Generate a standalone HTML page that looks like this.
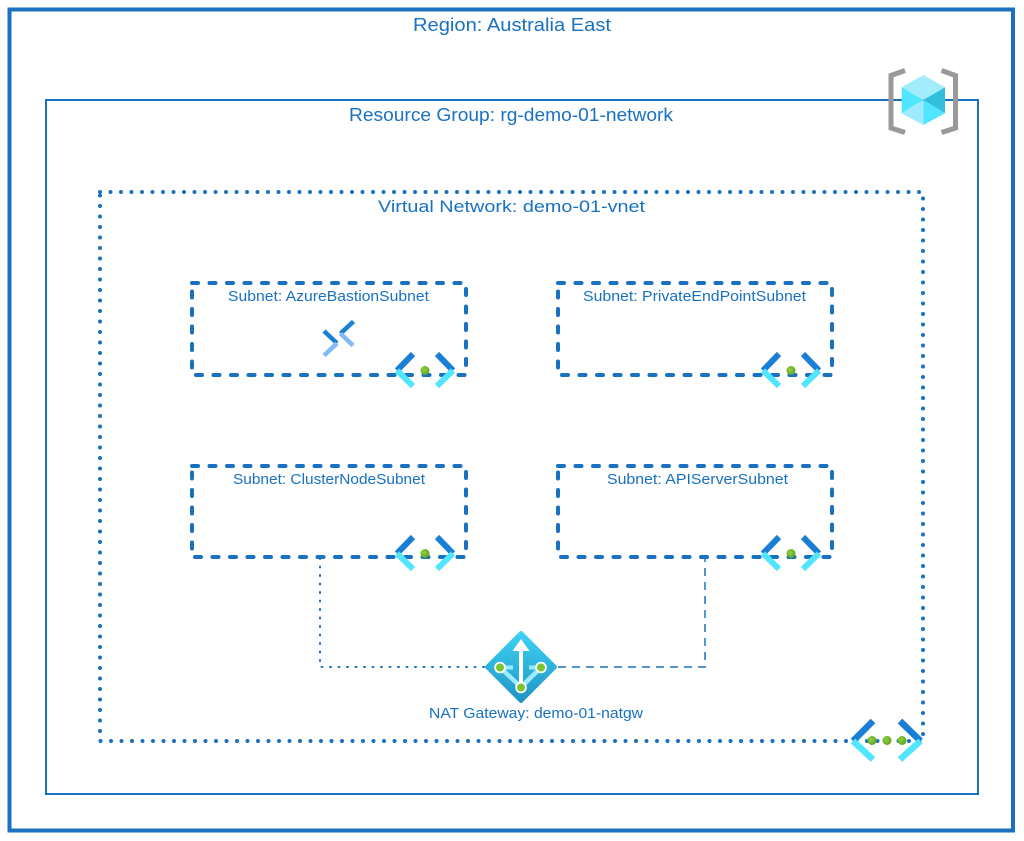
<!DOCTYPE html>
<html>
<head>
<meta charset="utf-8">
<style>
  html, body { margin: 0; padding: 0; background: #ffffff; }
  body { width: 1024px; height: 841px; overflow: hidden; }
  svg { display: block; }
  text { font-family: "Liberation Sans", "DejaVu Sans", sans-serif; fill: #1971c2; }
</style>
</head>
<body>
<svg width="1024" height="841" viewBox="0 0 1024 841" xmlns="http://www.w3.org/2000/svg">
  <defs>
    <linearGradient id="natg" gradientUnits="userSpaceOnUse" x1="0" y1="631" x2="0" y2="703">
      <stop offset="0" stop-color="#3fd3f6"/>
      <stop offset="1" stop-color="#1d94c2"/>
    </linearGradient>
    <radialGradient id="grn" cx="0.4" cy="0.4" r="0.7">
      <stop offset="0" stop-color="#8ad63a"/>
      <stop offset="1" stop-color="#5e9a24"/>
    </radialGradient>
  </defs>

  <rect x="0" y="0" width="1024" height="841" fill="#ffffff"/>

  <!-- Region -->
  <rect x="9.5" y="9.5" width="1003.5" height="821" fill="none" stroke="#1971c2" stroke-width="4"/>
  <text x="413" y="31" font-size="18" textLength="198" lengthAdjust="spacingAndGlyphs">Region: Australia East</text>

  <!-- Resource Group -->
  <rect x="46" y="100" width="932" height="694" fill="none" stroke="#1971c2" stroke-width="2"/>
  <text x="349" y="121" font-size="18" textLength="324" lengthAdjust="spacingAndGlyphs">Resource Group: rg-demo-01-network</text>

  <!-- Resource group icon -->
  <g>
    <polyline points="905,70.5 891,75.5 891,128 905,132.5" fill="none" stroke="#999999" stroke-width="5" stroke-linejoin="miter"/>
    <polyline points="941.5,70.5 955.5,75.5 955.5,128 941.5,132.5" fill="none" stroke="#999999" stroke-width="5" stroke-linejoin="miter"/>
    <polygon points="923.3,75 945,87.3 923.3,100 901.7,87.3" fill="#a3ecfd"/>
    <polygon points="901.7,87.3 923.3,100 901.7,113.3" fill="#50e6ff"/>
    <polygon points="901.7,113.3 923.3,100 923.3,125" fill="#9cebff"/>
    <polygon points="945,87.3 945,113.3 923.3,100" fill="#32bedd"/>
    <polygon points="923.3,100 945,113.3 923.3,125" fill="#50e6ff"/>
  </g>

  <!-- Virtual Network dotted -->
  <rect x="100" y="192" width="823" height="549" fill="none" stroke="#1971c2" stroke-width="4" stroke-dasharray="0 10.5" stroke-linecap="round"/>
  <text x="378" y="212" font-size="17" textLength="267" lengthAdjust="spacingAndGlyphs">Virtual Network: demo-01-vnet</text>

  <!-- Subnets -->
  <g fill="none" stroke="#1971c2" stroke-width="4" stroke-dasharray="6 11.5" stroke-linecap="round">
    <rect x="192" y="283" width="274" height="92"/>
    <rect x="558" y="283" width="274" height="92"/>
    <rect x="192" y="466" width="274" height="91"/>
    <rect x="558" y="466" width="274" height="91"/>
  </g>
  <text x="228" y="301" font-size="14.5" textLength="201" lengthAdjust="spacingAndGlyphs">Subnet: AzureBastionSubnet</text>
  <text x="583" y="301" font-size="14.5" textLength="223" lengthAdjust="spacingAndGlyphs">Subnet: PrivateEndPointSubnet</text>
  <text x="233" y="484" font-size="14.5" textLength="192" lengthAdjust="spacingAndGlyphs">Subnet: ClusterNodeSubnet</text>
  <text x="607" y="484" font-size="14.5" textLength="181" lengthAdjust="spacingAndGlyphs">Subnet: APIServerSubnet</text>

  <!-- Bastion icon -->
  <g stroke-width="4.5" stroke-linecap="butt" fill="none">
    <line x1="353.5" y1="321.5" x2="340.5" y2="333.5" stroke="#1b7fd5"/>
    <line x1="340.5" y1="333.5" x2="353" y2="345.5" stroke="#83b9f9"/>
    <line x1="324" y1="331" x2="337" y2="343.3" stroke="#1b7fd5"/>
    <line x1="337" y1="343.3" x2="324" y2="355.5" stroke="#83b9f9"/>
  </g>

  <!-- Subnet icons -->
  <g id="sn1">
    <line x1="413" y1="354" x2="397" y2="370.5" stroke="#1a7fd4" stroke-width="6"/>
    <line x1="397" y1="370.5" x2="413" y2="386" stroke="#50e6ff" stroke-width="6"/>
    <line x1="437" y1="354" x2="453" y2="370.5" stroke="#1a7fd4" stroke-width="6"/>
    <line x1="453" y1="370.5" x2="437" y2="386" stroke="#50e6ff" stroke-width="6"/>
    <circle cx="425" cy="370.5" r="4.5" fill="url(#grn)"/>
  </g>
  <g transform="translate(366,0)">
    <line x1="413" y1="354" x2="397" y2="370.5" stroke="#1a7fd4" stroke-width="6"/>
    <line x1="397" y1="370.5" x2="413" y2="386" stroke="#50e6ff" stroke-width="6"/>
    <line x1="437" y1="354" x2="453" y2="370.5" stroke="#1a7fd4" stroke-width="6"/>
    <line x1="453" y1="370.5" x2="437" y2="386" stroke="#50e6ff" stroke-width="6"/>
    <circle cx="425" cy="370.5" r="4.5" fill="url(#grn)"/>
  </g>

  <!-- Connectors -->
  <polyline points="320,558 320,667 485,667" fill="none" stroke="#1971c2" stroke-width="2" stroke-dasharray="1 7.5" stroke-linecap="round"/>
  <polyline points="558,667 705,667 705,558" fill="none" stroke="#1971c2" stroke-width="1.5" stroke-dasharray="8 6"/>

  <g transform="translate(0,183)">
    <line x1="413" y1="354" x2="397" y2="370.5" stroke="#1a7fd4" stroke-width="6"/>
    <line x1="397" y1="370.5" x2="413" y2="386" stroke="#50e6ff" stroke-width="6"/>
    <line x1="437" y1="354" x2="453" y2="370.5" stroke="#1a7fd4" stroke-width="6"/>
    <line x1="453" y1="370.5" x2="437" y2="386" stroke="#50e6ff" stroke-width="6"/>
    <circle cx="425" cy="370.5" r="4.5" fill="url(#grn)"/>
  </g>
  <g transform="translate(366,183)">
    <line x1="413" y1="354" x2="397" y2="370.5" stroke="#1a7fd4" stroke-width="6"/>
    <line x1="397" y1="370.5" x2="413" y2="386" stroke="#50e6ff" stroke-width="6"/>
    <line x1="437" y1="354" x2="453" y2="370.5" stroke="#1a7fd4" stroke-width="6"/>
    <line x1="453" y1="370.5" x2="437" y2="386" stroke="#50e6ff" stroke-width="6"/>
    <circle cx="425" cy="370.5" r="4.5" fill="url(#grn)"/>
  </g>

  <!-- NAT Gateway icon -->
  <g>
    <path d="M521,633 L555,667 L521,701 L487,667 Z" fill="url(#natg)" stroke="url(#natg)" stroke-width="4" stroke-linejoin="round"/>
    <line x1="500" y1="667.5" x2="521" y2="687" stroke="#9cebff" stroke-width="4.5"/>
    <line x1="541" y1="667.5" x2="521" y2="687" stroke="#9cebff" stroke-width="4.5"/>
    <line x1="500" y1="667.5" x2="513" y2="667.5" stroke="#9cebff" stroke-width="4"/>
    <line x1="529" y1="667.5" x2="541" y2="667.5" stroke="#9cebff" stroke-width="4"/>
    <line x1="521" y1="687" x2="521" y2="649" stroke="#ffffff" stroke-width="4"/>
    <polygon points="521,639 512.5,651 529.5,651" fill="#ffffff"/>
    <circle cx="500" cy="667.5" r="5.8" fill="#ffffff"/>
    <circle cx="500" cy="667.5" r="4" fill="#7cc52f"/>
    <circle cx="541" cy="667.5" r="5.8" fill="#ffffff"/>
    <circle cx="541" cy="667.5" r="4" fill="#7cc52f"/>
    <circle cx="521" cy="687.5" r="5.8" fill="#ffffff"/>
    <circle cx="521" cy="687.5" r="4" fill="#7cc52f"/>
  </g>
  <text x="429" y="718" font-size="14.5" textLength="214" lengthAdjust="spacingAndGlyphs">NAT Gateway: demo-01-natgw</text>

  <!-- VNet icon -->
  <g>
    <line x1="873" y1="721" x2="853" y2="741" stroke="#1a7fd4" stroke-width="6.5"/>
    <line x1="853" y1="741" x2="873" y2="759.5" stroke="#50e6ff" stroke-width="6.5"/>
    <line x1="900" y1="721" x2="920.5" y2="741" stroke="#1a7fd4" stroke-width="6.5"/>
    <line x1="920.5" y1="741" x2="900" y2="759.5" stroke="#50e6ff" stroke-width="6.5"/>
    <circle cx="872" cy="740.5" r="4.5" fill="url(#grn)"/>
    <circle cx="887" cy="740.5" r="4.5" fill="url(#grn)"/>
    <circle cx="902" cy="740.5" r="4.5" fill="url(#grn)"/>
  </g>
</svg>
</body>
</html>
